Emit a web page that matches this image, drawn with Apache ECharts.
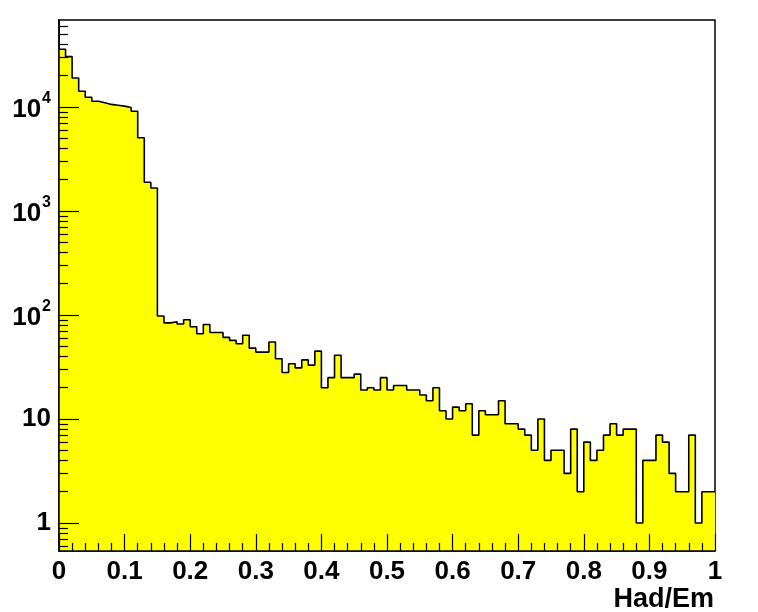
<!DOCTYPE html>
<html>
<head>
<meta charset="utf-8">
<script src="https://cdn.jsdelivr.net/npm/echarts@6/dist/echarts.min.js"></script>
<style>
html,body{margin:0;padding:0;background:#fff;}
#chart{width:758px;height:612px;}
</style>
</head>
<body>
<div id="chart"></div>
<script>
// Histogram of Had/Em : 100 bins from 0 to 1
const xMin = 0;
const xMax = 1;
const nBins = 100;
const counts = [
  35900, 30500, 19000, 14200, 12400, 11350, 11000, 10600, 10400, 10200,
  9900, 9100, 5070, 1890, 1665, 98, 84, 86, 82, 90,
  77, 66, 81, 68, 68, 61, 57, 53, 64, 48,
  44, 44, 55, 38, 28, 34, 31, 37, 33, 45,
  20, 25, 41, 25, 25, 27, 19, 20, 19, 25,
  19, 21, 21, 19, 19, 17, 15, 20, 12, 10,
  13, 12, 14, 7, 12, 11, 11, 15, 9, 9,
  8, 7, 5, 10, 4, 5, 5, 3, 8, 2,
  6, 4, 5, 7, 9, 7, 8, 8, 1, 4,
  4, 7, 6, 3, 2, 2, 7, 1, 2, 2
];
const yMajorTicks = [1, 10, 100, 1000, 10000];
const yMinorTicks = [0.6, 0.7, 0.8, 0.9,
  2, 3, 4, 5, 6, 7, 8, 9,
  20, 30, 40, 50, 60, 70, 80, 90,
  200, 300, 400, 500, 600, 700, 800, 900,
  2000, 3000, 4000, 5000, 6000, 7000, 8000, 9000,
  20000, 30000, 40000, 50000, 60000];
const xTitle = 'Had/Em';

const binWidth = (xMax - xMin) / nBins;
const stepData = counts.map((c, i) => [+(xMin + i * binWidth).toFixed(4), c]);
stepData.push([xMax, counts[counts.length - 1]]);

const FONT = '"Liberation Sans", Arial, Helvetica, sans-serif';
const chart = echarts.init(document.getElementById('chart'), null, {renderer: 'canvas'});
chart.setOption({
  animation: false,
  backgroundColor: '#ffffff',
  title: {
    text: xTitle,
    right: 39,
    top: 581,
    textStyle: {fontFamily: FONT, fontWeight: 'bold', fontSize: 27, color: '#000'}
  },
  grid: {
    left: 59, right: 43, top: 20, bottom: 61,
    show: true, borderColor: '#000', borderWidth: 1.5, backgroundColor: 'transparent'
  },
  xAxis: {
    type: 'value',
    z: 10,
    min: xMin, max: xMax, interval: 0.1,
    axisLine: {show: true, lineStyle: {color: '#000', width: 1.5}},
    axisTick: {show: true, inside: true, length: 17, lineStyle: {color: '#000', width: 1.2}},
    minorTick: {show: true, splitNumber: 5, length: 8, lineStyle: {color: '#000', width: 1.2}},
    axisLabel: {
      margin: 8,
      fontFamily: FONT, fontWeight: 'bold', fontSize: 26, color: '#000',
      formatter: v => String(+v.toFixed(2))
    },
    splitLine: {show: false}
  },
  yAxis: [
    {
      type: 'log', logBase: 10, min: 0.538, max: 68700,
      z: 10,
      axisLine: {show: true, lineStyle: {color: '#000', width: 1.5}},
      axisTick: {show: true, inside: true, length: 20, customValues: yMajorTicks,
                 lineStyle: {color: '#000', width: 1.2}},
      axisLabel: {
        customValues: yMajorTicks,
        margin: 8,
        color: '#000',
        formatter: function (v) {
          const e = Math.round(Math.log10(v));
          if (e === 0) return '{n|1}';
          if (e === 1) return '{n|10}';
          return '{b|10}{s|' + e + '}';
        },
        rich: {
          n: {fontFamily: FONT, fontWeight: 'bold', fontSize: 26, color: '#000'},
          b: {fontFamily: FONT, fontWeight: 'bold', fontSize: 26, color: '#000',
              lineHeight: 26, padding: [12, 0, 0, 0], verticalAlign: 'bottom'},
          s: {fontFamily: FONT, fontWeight: 'bold', fontSize: 16, color: '#000',
              lineHeight: 32, verticalAlign: 'top', padding: [0, 0, 0, 1]}
        }
      },
      splitLine: {show: false}
    },
    {
      type: 'log', logBase: 10, min: 0.538, max: 68700, position: 'left',
      z: 10,
      axisLine: {show: false},
      axisTick: {show: true, inside: true, length: 9, customValues: yMinorTicks,
                 lineStyle: {color: '#000', width: 1.2}},
      axisLabel: {show: false},
      splitLine: {show: false}
    }
  ],
  series: [{
    type: 'line',
    step: 'end',
    data: stepData,
    symbol: 'none',
    lineStyle: {color: '#000', width: 1.6},
    areaStyle: {color: '#ffff00', opacity: 1, origin: 'start'},
    z: 1
  }]
});
</script>
</body>
</html>
